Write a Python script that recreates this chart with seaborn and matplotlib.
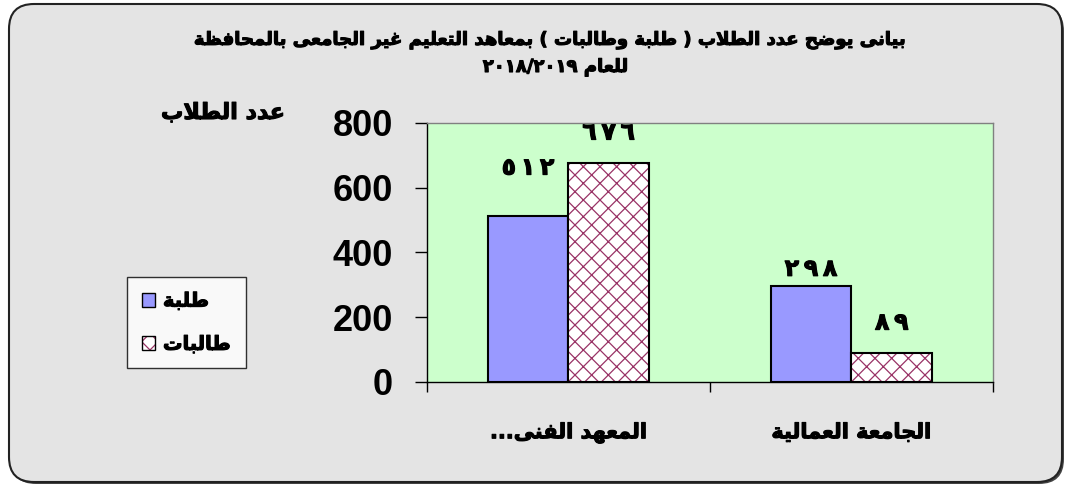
import re
import pandas as pd
import matplotlib
matplotlib.use('Agg')
import matplotlib.pyplot as plt
import seaborn as sns
from matplotlib.patches import Patch, Rectangle, FancyBboxPatch
from matplotlib.legend_handler import HandlerTuple
import matplotlib.patheffects as pe

# chart data
categories = ['المعهد الفنى...', 'الجامعة العمالية']
series = ['طلبة', 'طالبات']
male_students = [512, 298]
female_students = [676, 89]
y_ticks = [0, 200, 400, 600, 800]
title_lines = ['بيانى يوضح عدد الطلاب ( طلبة وطالبات ) بمعاهد التعليم غير الجامعى بالمحافظة',
               'للعام ٢٠١٨/٢٠١٩']
y_title = 'عدد الطلاب'

# matplotlib has no arabic shaping, so pick presentation forms by hand
# (first code point, number of forms: isolated, final, initial, medial)
FORMS = {
    'ء': (0xFE80, 1), 'آ': (0xFE81, 2), 'أ': (0xFE83, 2), 'ؤ': (0xFE85, 2),
    'إ': (0xFE87, 2), 'ئ': (0xFE89, 4), 'ا': (0xFE8D, 2), 'ب': (0xFE8F, 4),
    'ة': (0xFE93, 2), 'ت': (0xFE95, 4), 'ث': (0xFE99, 4), 'ج': (0xFE9D, 4),
    'ح': (0xFEA1, 4), 'خ': (0xFEA5, 4), 'د': (0xFEA9, 2), 'ذ': (0xFEAB, 2),
    'ر': (0xFEAD, 2), 'ز': (0xFEAF, 2), 'س': (0xFEB1, 4), 'ش': (0xFEB5, 4),
    'ص': (0xFEB9, 4), 'ض': (0xFEBD, 4), 'ط': (0xFEC1, 4), 'ظ': (0xFEC5, 4),
    'ع': (0xFEC9, 4), 'غ': (0xFECD, 4), 'ف': (0xFED1, 4), 'ق': (0xFED5, 4),
    'ك': (0xFED9, 4), 'ل': (0xFEDD, 4), 'م': (0xFEE1, 4), 'ن': (0xFEE5, 4),
    'ه': (0xFEE9, 4), 'و': (0xFEED, 2), 'ى': (0xFEEF, 2), 'ي': (0xFEF1, 4),
    '\uFEFB': (0xFEFB, 2),
}


def ar(text):
    chars = list(text.replace('لا', '\uFEFB'))
    out = []
    for i, c in enumerate(chars):
        if c not in FORMS:
            out.append(c)
            continue
        code, n = FORMS[c]
        prev = chars[i - 1] if i > 0 else ''
        nxt = chars[i + 1] if i + 1 < len(chars) else ''
        jp = n >= 2 and prev in FORMS and FORMS[prev][1] == 4
        jn = n == 4 and nxt in FORMS and FORMS[nxt][1] >= 2
        if jp and jn:
            code += 3
        elif jp:
            code += 1
        elif jn:
            code += 2
        out.append(chr(code))
    vis = ''.join(out)[::-1]
    vis = vis.translate(str.maketrans('()', ')('))
    # digit runs stay left to right
    return re.sub(r'[\u0660-\u0669]+(?:/[\u0660-\u0669]+)*', lambda m: m.group(0)[::-1], vis)


def indic(n):
    return '\u2009'.join(chr(0x0660 + int(d)) for d in str(n))


# the arabic glyphs come out thin, thicken them a little
BOLD = [pe.withStroke(linewidth=0.8, foreground='black')]

df = pd.DataFrame({
    'category': categories * 2,
    'series': [series[0]] * 2 + [series[1]] * 2,
    'value': male_students + female_students,
})

sns.set_style('white')
plt.rcParams['font.family'] = ['DejaVu Sans']
plt.rcParams['hatch.linewidth'] = 0.9
for key in ['text.color', 'xtick.color', 'ytick.color', 'axes.labelcolor']:
    plt.rcParams[key] = 'black'

fig = plt.figure(figsize=(10.7, 4.86), dpi=100)
fig.patch.set_facecolor('white')
fig.add_artist(FancyBboxPatch((0.11, 0.02), 10.53, 4.78, boxstyle='round,pad=0,rounding_size=0.25',
                              transform=fig.dpi_scale_trans, facecolor='#444444', edgecolor='none', zorder=-11))
fig.add_artist(FancyBboxPatch((0.09, 0.04), 10.53, 4.78, boxstyle='round,pad=0,rounding_size=0.25',
                              transform=fig.dpi_scale_trans, facecolor='#e4e4e4', edgecolor='#222222',
                              linewidth=1.5, zorder=-10))

ax = fig.add_axes([0.399, 0.214, 0.529, 0.533])
ax.set_facecolor('#CCFFCC')

sns.barplot(data=df, x='category', y='value', hue='series', order=categories, hue_order=series,
            palette=['#9999FF', '#FFFFFF'], saturation=1, width=0.57, edgecolor='black', linewidth=1.5,
            legend=False, ax=ax)

# hatched series: hatch drawn with edge colour, outline on top
for p in ax.containers[1]:
    p.set_edgecolor('#993366')
    p.set_linewidth(0)
    p.set_hatch('xx')
    ax.add_patch(Rectangle(p.get_xy(), p.get_width(), p.get_height(), fill=False,
                           edgecolor='black', linewidth=1.5, zorder=p.get_zorder() + 0.1))

# value labels
offsets = [[35, 12], [22, 22]]
for k, cont in enumerate(ax.containers):
    for j, p in enumerate(cont):
        ax.annotate(indic(int(p.get_height())), (p.get_x() + p.get_width() / 2, p.get_height()),
                    xytext=(0, offsets[k][j]), textcoords='offset points', ha='center', va='center',
                    fontsize=17, fontweight='bold', annotation_clip=False, path_effects=BOLD)

ax.set_ylim(0, 800)
ax.set_xlim(-0.5, 1.5)
ax.set_yticks(y_ticks)
ax.set_yticklabels([str(t) for t in y_ticks], fontsize=26, fontweight='bold', family='Liberation Sans')
ax.tick_params(axis='y', length=8.6, width=1, direction='out', pad=16, left=True)
ax.set_xticks([0, 1])
ax.set_xticklabels([ar(c) for c in categories], fontsize=15, fontweight='bold')
for t in ax.get_xticklabels():
    t.set_path_effects(BOLD)
ax.tick_params(axis='x', length=0, pad=29)
ax.set_xticks([-0.5, 0.5, 1.5], minor=True)
ax.tick_params(axis='x', which='minor', length=7, width=1, direction='out', bottom=True)
ax.set_xlabel('')
ax.set_ylabel('')

for s in ['top', 'right']:
    ax.spines[s].set_color('#808080')
    ax.spines[s].set_linewidth(1)
for s in ['left', 'bottom']:
    ax.spines[s].set_color('black')
    ax.spines[s].set_linewidth(1)

fig.text(0.514, 1 - 40 / 486, ar(title_lines[0]), ha='center', va='center', fontsize=13,
         fontweight='bold', path_effects=BOLD)
fig.text(0.519, 1 - 67 / 486, ar(title_lines[1]), ha='center', va='center', fontsize=13,
         fontweight='bold', path_effects=BOLD)
fig.text(223 / 1070, 1 - 113 / 486, ar(y_title), ha='center', va='center', fontsize=16,
         fontweight='bold', path_effects=BOLD)

handles = [Patch(facecolor='#9999FF', edgecolor='black', linewidth=1),
           (Patch(facecolor='white', edgecolor='#993366', hatch='xx', linewidth=0),
            Patch(fill=False, edgecolor='black', linewidth=1))]
leg = fig.legend(handles, [ar(s) for s in series], loc='upper left', bbox_to_anchor=(0.1187, 0.430),
                 bbox_transform=fig.transFigure, borderaxespad=0, frameon=True, fancybox=False,
                 handlelength=0.7, handleheight=0.7, handletextpad=0.4, labelspacing=1.25,
                 borderpad=0.75, prop={'weight': 'bold', 'size': 14},
                 handler_map={tuple: HandlerTuple(ndivide=1, pad=0)})
leg.get_frame().set_edgecolor('black')
leg.get_frame().set_linewidth(1)
leg.get_frame().set_facecolor('white')
for t in leg.get_texts():
    t.set_path_effects(BOLD)

fig.savefig('out.png', dpi=100)
